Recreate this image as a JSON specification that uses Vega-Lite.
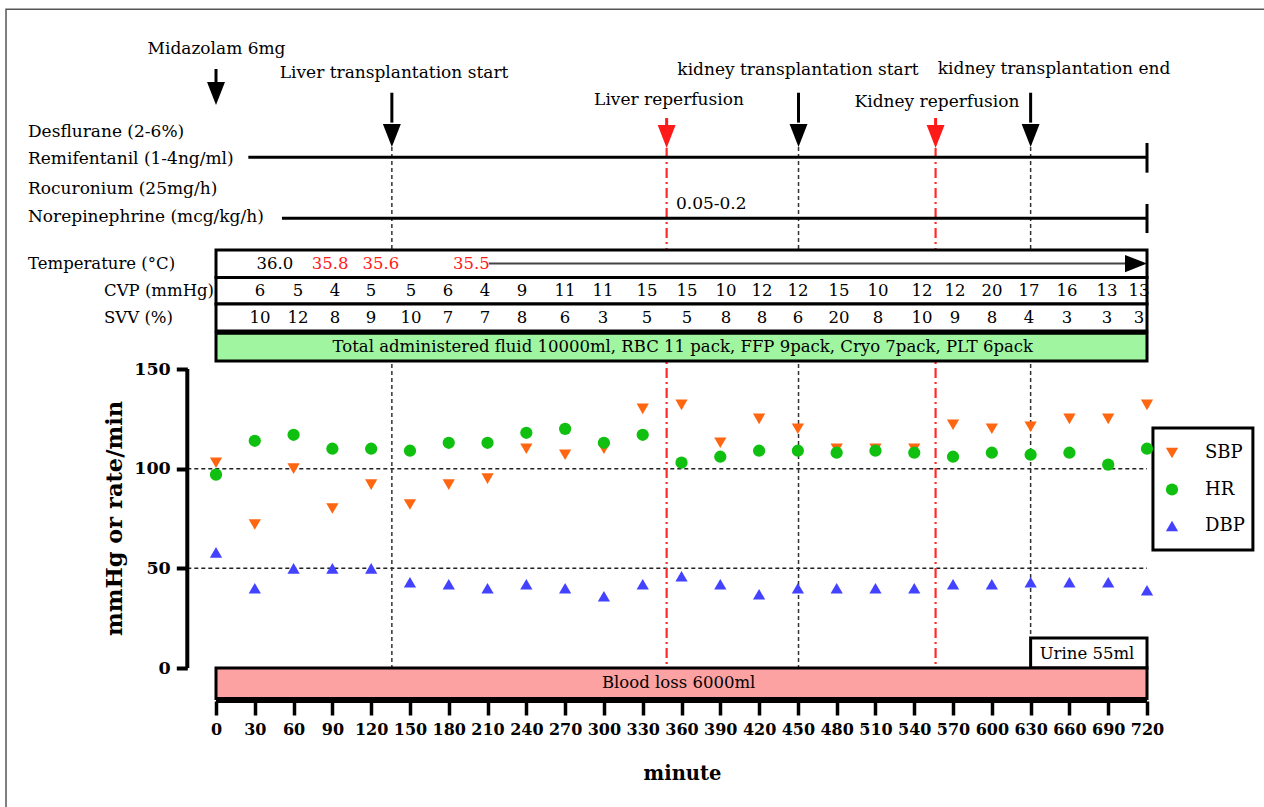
{
  "$schema": "https://vega.github.io/schema/vega-lite/v6.json",
  "width": 1264,
  "height": 807,
  "padding": 0,
  "autosize": {"type": "none"},
  "background": "white",
  "config": {"view": {"stroke": null}, "font": "DejaVu Serif"},
  "datasets": {
    "vitals": [
      {"minute": 0, "SBP": 103, "HR": 97, "DBP": 58},
      {"minute": 30, "SBP": 72, "HR": 114, "DBP": 40},
      {"minute": 60, "SBP": 100, "HR": 117, "DBP": 50},
      {"minute": 90, "SBP": 80, "HR": 110, "DBP": 50},
      {"minute": 120, "SBP": 92, "HR": 110, "DBP": 50},
      {"minute": 150, "SBP": 82, "HR": 109, "DBP": 43},
      {"minute": 180, "SBP": 92, "HR": 113, "DBP": 42},
      {"minute": 210, "SBP": 95, "HR": 113, "DBP": 40},
      {"minute": 240, "SBP": 110, "HR": 118, "DBP": 42},
      {"minute": 270, "SBP": 107, "HR": 120, "DBP": 40},
      {"minute": 300, "SBP": 110, "HR": 113, "DBP": 36},
      {"minute": 330, "SBP": 130, "HR": 117, "DBP": 42},
      {"minute": 360, "SBP": 132, "HR": 103, "DBP": 46},
      {"minute": 390, "SBP": 113, "HR": 106, "DBP": 42},
      {"minute": 420, "SBP": 125, "HR": 109, "DBP": 37},
      {"minute": 450, "SBP": 120, "HR": 109, "DBP": 40},
      {"minute": 480, "SBP": 110, "HR": 108, "DBP": 40},
      {"minute": 510, "SBP": 110, "HR": 109, "DBP": 40},
      {"minute": 540, "SBP": 110, "HR": 108, "DBP": 40},
      {"minute": 570, "SBP": 122, "HR": 106, "DBP": 42},
      {"minute": 600, "SBP": 120, "HR": 108, "DBP": 42},
      {"minute": 630, "SBP": 121, "HR": 107, "DBP": 43},
      {"minute": 660, "SBP": 125, "HR": 108, "DBP": 43},
      {"minute": 690, "SBP": 125, "HR": 102, "DBP": 43},
      {"minute": 720, "SBP": 132, "HR": 110, "DBP": 39}
    ],
    "table": [
      {"minute": 34, "CVP": 6, "SVV": 10},
      {"minute": 63.4, "CVP": 5, "SVV": 12},
      {"minute": 92, "CVP": 4, "SVV": 8},
      {"minute": 119.9, "CVP": 5, "SVV": 9},
      {"minute": 150.8, "CVP": 5, "SVV": 10},
      {"minute": 179.4, "CVP": 6, "SVV": 7},
      {"minute": 208, "CVP": 4, "SVV": 7},
      {"minute": 236.7, "CVP": 9, "SVV": 8},
      {"minute": 269.9, "CVP": 11, "SVV": 6},
      {"minute": 299.3, "CVP": 11, "SVV": 3},
      {"minute": 333.3, "CVP": 15, "SVV": 5},
      {"minute": 364.3, "CVP": 15, "SVV": 5},
      {"minute": 394.4, "CVP": 10, "SVV": 8},
      {"minute": 422.3, "CVP": 12, "SVV": 8},
      {"minute": 450.1, "CVP": 12, "SVV": 6},
      {"minute": 481.8, "CVP": 15, "SVV": 20},
      {"minute": 512, "CVP": 10, "SVV": 8},
      {"minute": 546, "CVP": 12, "SVV": 10},
      {"minute": 571.5, "CVP": 12, "SVV": 9},
      {"minute": 600.1, "CVP": 20, "SVV": 8},
      {"minute": 628.7, "CVP": 17, "SVV": 4},
      {"minute": 658.1, "CVP": 16, "SVV": 3},
      {"minute": 689.1, "CVP": 13, "SVV": 3},
      {"minute": 713.8, "CVP": 13, "SVV": 3}
    ],
    "rowLevels": [
      {"row": "CVP", "level": 189.1},
      {"row": "SVV", "level": 175.6}
    ],
    "blackArrows": [
      {"minute": 0, "level": 300.5, "level_end": 290.5, "head": 288.2},
      {"minute": 136, "level": 288.6, "level_end": 273.6, "head": 267.1},
      {"minute": 450.5, "level": 288.6, "level_end": 273.6, "head": 267.1},
      {"minute": 630, "level": 288.6, "level_end": 273.6, "head": 267.1}
    ],
    "redArrows": [
      {"minute": 348.5, "level": 275.9, "level_end": 271.6, "head": 266.6},
      {"minute": 556.5, "level": 275.9, "level_end": 271.6, "head": 266.6}
    ]
  },
  "encoding": {
    "x": {
      "field": "minute",
      "type": "quantitative",
      "scale": {"domain": [-167.05, 810.48], "nice": false, "zero": false},
      "axis": {
        "title": "minute",
        "values": [0, 30, 60, 90, 120, 150, 180, 210, 240, 270, 300, 330, 360, 390, 420, 450, 480, 510, 540, 570, 600, 630, 660, 690, 720],
        "domain": false,
        "grid": false,
        "offset": -106,
        "tickSize": 14,
        "tickWidth": 3.5,
        "tickColor": "black",
        "labelFont": "DejaVu Serif",
        "labelFontWeight": "bold",
        "labelFontSize": 16,
        "labelColor": "black",
        "labelPadding": 6,
        "labelFlush": false,
        "labelOverlap": false,
        "titleFont": "DejaVu Serif",
        "titleFontSize": 19.5,
        "titleFontWeight": "bold",
        "titleColor": "black",
        "titleX": 682,
        "titleY": 72,
        "titleAlign": "center",
        "titleBaseline": "middle"
      }
    },
    "y": {
      "field": "level",
      "type": "quantitative",
      "scale": {"domain": [-69.73, 335.12], "nice": false, "zero": false},
      "axis": {
        "title": "mmHg or rate/min",
        "values": [0, 50, 100, 150],
        "domain": false,
        "grid": false,
        "offset": -187.3,
        "tickSize": 11,
        "tickWidth": 4,
        "tickColor": "black",
        "labelFont": "DejaVu Serif",
        "labelFontWeight": "bold",
        "labelFontSize": 17.5,
        "labelColor": "black",
        "labelPadding": 6,
        "labelFlush": false,
        "titleFont": "DejaVu Serif",
        "titleFontSize": 22.5,
        "titleFontWeight": "bold",
        "titleColor": "black",
        "titleAngle": 270,
        "titleX": -73,
        "titleY": 518,
        "titleAlign": "center",
        "titleBaseline": "middle"
      }
    }
  },
  "layer": [
    {
      "data": {"values": [{"minute": -162.4, "minute_end": 900, "level": 330.5, "level_end": -100}]},
      "mark": {"type": "rect", "fill": null, "fillOpacity": 0, "stroke": "#555555", "strokeWidth": 1.5},
      "encoding": {"x2": {"field": "minute_end"}, "y2": {"field": "level_end"}}
    },
    {
      "data": {"values": [{"minute": -22.2, "minute_end": 720, "level": 50}, {"minute": -22.2, "minute_end": 720, "level": 100}]},
      "mark": {"type": "rule", "color": "#222222", "strokeWidth": 1.5, "strokeDash": [4, 3]},
      "encoding": {"x2": {"field": "minute_end"}}
    },
    {
      "data": {"values": [{"minute": 136, "level": 261.4, "level_end": 0}, {"minute": 450.5, "level": 261.4, "level_end": 0}, {"minute": 630, "level": 261.4, "level_end": 0}]},
      "mark": {"type": "rule", "color": "#333333", "strokeWidth": 1.5, "strokeDash": [4, 3]},
      "encoding": {"y2": {"field": "level_end"}}
    },
    {
      "data": {"values": [{"minute": 348.5, "level": 260.9, "level_end": 0}, {"minute": 556.5, "level": 260.9, "level_end": 0}]},
      "mark": {"type": "rule", "color": "#ff2a2a", "strokeWidth": 2.2, "strokeDash": [10, 4, 2, 4]},
      "encoding": {"y2": {"field": "level_end"}}
    },
    {
      "data": {"values": [{"minute": 25, "minute_end": 720, "level": 256.2}, {"minute": 51, "minute_end": 720, "level": 225.6}]},
      "mark": {"type": "rule", "color": "black", "strokeWidth": 3},
      "encoding": {"x2": {"field": "minute_end"}}
    },
    {
      "data": {"values": [{"minute": 720, "level": 263.4, "level_end": 248.5}, {"minute": 720, "level": 232.8, "level_end": 218.2}]},
      "mark": {"type": "rule", "color": "black", "strokeWidth": 3},
      "encoding": {"y2": {"field": "level_end"}}
    },
    {
      "data": {"name": "blackArrows"},
      "mark": {"type": "rule", "color": "black", "strokeWidth": 3},
      "encoding": {"y2": {"field": "level_end"}}
    },
    {
      "data": {"name": "blackArrows"},
      "mark": {"type": "point", "shape": "M-0.78,-1L0.78,-1L0,1Z", "size": 529, "filled": true, "color": "black", "opacity": 1, "strokeWidth": 0},
      "encoding": {"y": {"field": "head", "type": "quantitative"}}
    },
    {
      "data": {"name": "redArrows"},
      "mark": {"type": "rule", "color": "#ff1a1a", "strokeWidth": 3},
      "encoding": {"y2": {"field": "level_end"}}
    },
    {
      "data": {"name": "redArrows"},
      "mark": {"type": "point", "shape": "M-0.78,-1L0.78,-1L0,1Z", "size": 529, "filled": true, "color": "#ff1a1a", "opacity": 1, "strokeWidth": 0},
      "encoding": {"y": {"field": "head", "type": "quantitative"}}
    },
    {
      "data": {"values": [
        {"row": "Temperature", "minute": 0, "minute_end": 720, "level": 209.7, "level_end": 195.9},
        {"row": "CVP", "minute": 0, "minute_end": 720, "level": 195.9, "level_end": 182.6},
        {"row": "SVV", "minute": 0, "minute_end": 720, "level": 182.6, "level_end": 169.1},
        {"row": "Urine", "minute": 630, "minute_end": 720, "level": 15, "level_end": 0}
      ]},
      "mark": {"type": "rect", "fill": "white", "stroke": "black", "strokeWidth": 3},
      "encoding": {"x2": {"field": "minute_end"}, "y2": {"field": "level_end"}}
    },
    {
      "data": {"values": [{"minute": 0, "minute_end": 720, "level": 168, "level_end": 154}]},
      "mark": {"type": "rect", "fill": "#a0f5a0", "stroke": "black", "strokeWidth": 3},
      "encoding": {"x2": {"field": "minute_end"}, "y2": {"field": "level_end"}}
    },
    {
      "data": {"values": [{"minute": 0, "minute_end": 720, "level": 0, "level_end": -15.3}]},
      "mark": {"type": "rect", "fill": "#fca2a2", "stroke": "black", "strokeWidth": 3},
      "encoding": {"x2": {"field": "minute_end"}, "y2": {"field": "level_end"}}
    },
    {
      "data": {"values": [{"minute": 724.6, "minute_end": 801.9, "level": 120.4, "level_end": 59.2}]},
      "mark": {"type": "rect", "fill": null, "fillOpacity": 0, "stroke": "black", "strokeWidth": 3},
      "encoding": {"x2": {"field": "minute_end"}, "y2": {"field": "level_end"}}
    },
    {
      "data": {"values": [{"minute": 211, "minute_end": 706, "level": 202.9}]},
      "mark": {"type": "rule", "color": "#444444", "strokeWidth": 2},
      "encoding": {"x2": {"field": "minute_end"}}
    },
    {
      "data": {"values": [{"minute": 711.5, "level": 202.9}]},
      "mark": {"type": "point", "shape": "M-1,-0.78L1,0L-1,0.78Z", "size": 484, "filled": true, "color": "black", "opacity": 1, "strokeWidth": 0}
    },
    {
      "data": {"values": [
        {"label": "Midazolam 6mg", "minute": 0.4, "level": 310.5},
        {"label": "Liver transplantation start", "minute": 137.7, "level": 298.6},
        {"label": "Liver reperfusion", "minute": 350.3, "level": 285.0},
        {"label": "kidney transplantation start", "minute": 450.1, "level": 300.0},
        {"label": "Kidney reperfusion", "minute": 557.6, "level": 284.1},
        {"label": "kidney transplantation end", "minute": 648.1, "level": 300.3}
      ]},
      "mark": {"type": "text", "align": "center", "baseline": "middle", "fontSize": 17, "color": "black"},
      "encoding": {"text": {"field": "label"}}
    },
    {
      "data": {"values": [
        {"label": "Desflurane (2-6%)", "minute": -145.4, "level": 269.0},
        {"label": "Remifentanil (1-4ng/ml)", "minute": -145.4, "level": 255.2},
        {"label": "Rocuronium (25mg/h)", "minute": -145.4, "level": 240.5},
        {"label": "Norepinephrine (mcg/kg/h)", "minute": -145.4, "level": 226.1},
        {"label": "0.05-0.2", "minute": 355.7, "level": 232.8}
      ]},
      "mark": {"type": "text", "align": "left", "baseline": "middle", "fontSize": 17, "color": "black"},
      "encoding": {"text": {"field": "label"}}
    },
    {
      "data": {"values": [
        {"label": "Temperature (°C)", "minute": -145.4, "level": 202.9},
        {"label": "CVP (mmHg)", "minute": -86.6, "level": 189.1},
        {"label": "SVV (%)", "minute": -86.6, "level": 175.6}
      ]},
      "mark": {"type": "text", "align": "left", "baseline": "middle", "fontSize": 16.5, "color": "black"},
      "encoding": {"text": {"field": "label"}}
    },
    {
      "data": {"values": [
        {"label": "36.0", "minute": 45.6, "level": 202.9},
        {"label": "Total administered fluid 10000ml, RBC 11 pack, FFP 9pack, Cryo 7pack, PLT 6pack", "minute": 361, "level": 161},
        {"label": "Blood loss 6000ml", "minute": 357.8, "level": -7.5},
        {"label": "Urine 55ml", "minute": 673.6, "level": 7}
      ]},
      "mark": {"type": "text", "align": "center", "baseline": "middle", "fontSize": 16.5, "color": "black"},
      "encoding": {"text": {"field": "label"}}
    },
    {
      "data": {"values": [
        {"label": "35.8", "minute": 88.2, "level": 202.9},
        {"label": "35.6", "minute": 127.6, "level": 202.9},
        {"label": "35.5", "minute": 197.5, "level": 202.9}
      ]},
      "mark": {"type": "text", "align": "center", "baseline": "middle", "fontSize": 16.5, "color": "#ff1a1a"},
      "encoding": {"text": {"field": "label"}}
    },
    {
      "data": {"name": "table"},
      "transform": [
        {"fold": ["CVP", "SVV"], "as": ["row", "value"]},
        {"lookup": "row", "from": {"data": {"name": "rowLevels"}, "key": "row", "fields": ["level"]}}
      ],
      "mark": {"type": "text", "align": "center", "baseline": "middle", "fontSize": 16.5, "color": "black"},
      "encoding": {"text": {"field": "value", "type": "nominal"}}
    },
    {
      "data": {"values": [{"minute": -22.2, "level": 150, "level_end": 0}]},
      "mark": {"type": "rule", "color": "black", "strokeWidth": 4},
      "encoding": {"y2": {"field": "level_end"}}
    },
    {
      "data": {"values": [{"minute": 0, "minute_end": 720, "level": -16.5}]},
      "mark": {"type": "rule", "color": "black", "strokeWidth": 4},
      "encoding": {"x2": {"field": "minute_end"}}
    },
    {
      "data": {"name": "vitals"},
      "transform": [{"fold": ["SBP", "HR", "DBP"], "as": ["series", "level"]}],
      "mark": {"type": "point", "filled": true, "size": 150, "opacity": 1, "strokeWidth": 0},
      "encoding": {
        "color": {
          "field": "series",
          "type": "nominal",
          "scale": {"domain": ["SBP", "HR", "DBP"], "range": ["#ff6611", "#10c010", "#4242ff"]},
          "legend": {
            "orient": "none", "legendX": 1153, "legendY": 428, "title": null,
            "strokeColor": null, "padding": 10, "symbolSize": 150, "symbolStrokeWidth": 0,
            "labelFont": "DejaVu Serif", "labelFontSize": 18, "labelColor": "black",
            "labelOffset": 24, "rowPadding": 6.5, "clipHeight": 30
          }
        },
        "shape": {
          "field": "series",
          "type": "nominal",
          "scale": {"domain": ["SBP", "HR", "DBP"], "range": ["triangle-down", "circle", "triangle-up"]},
          "legend": {
            "orient": "none", "legendX": 1153, "legendY": 428, "title": null,
            "strokeColor": null, "padding": 10, "symbolSize": 150, "symbolStrokeWidth": 0,
            "labelFont": "DejaVu Serif", "labelFontSize": 18, "labelColor": "black",
            "labelOffset": 24, "rowPadding": 6.5, "clipHeight": 30
          }
        }
      }
    }
  ]
}
